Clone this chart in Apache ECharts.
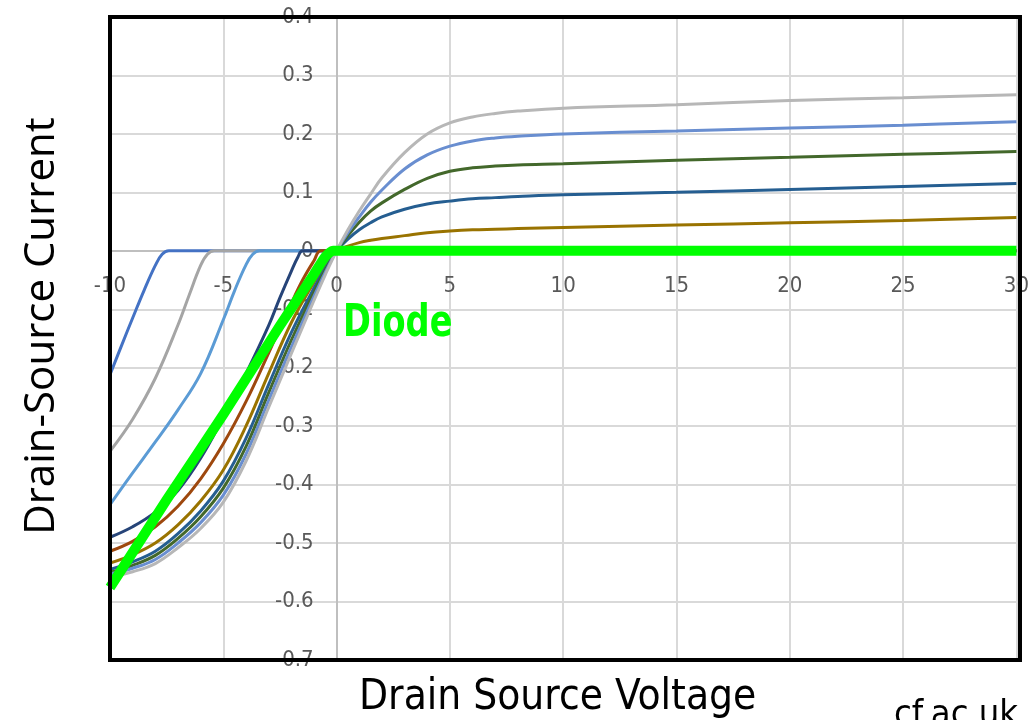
<!DOCTYPE html>
<html>
<head>
<meta charset="utf-8">
<script src="https://cdn.jsdelivr.net/npm/echarts@6.0.0/dist/echarts.min.js"></script>
<style>
  html, body { margin: 0; padding: 0; background: #ffffff; }
  #chart { width: 1032px; height: 720px; }
</style>
</head>
<body>
<div id="chart"></div>
<script>
// Axis ranges (Drain-Source Voltage in V, Drain-Source Current in A)
const xMin = -10, xMax = 30, xStep = 5;
const yMin = -0.7, yMax = 0.4, yStep = 0.1;

// Output characteristic curves, one per gate drive step: [Vds, Ids]
const curve1 = [[-10,-0.212],[-9.5,-0.163],[-9,-0.115],[-8.5,-0.068],[-8,-0.025],[-7.7,-0.006],[-7.4,0],[0,0],[30,0]];
const curve2 = [[-10,-0.343],[-9,-0.288],[-8,-0.218],[-7,-0.127],[-6.5,-0.075],[-6,-0.025],[-5.7,-0.006],[-5.4,0],[0,0],[30,0]];
const curve3 = [[-10,-0.434],[-9,-0.38],[-8,-0.327],[-7,-0.272],[-6,-0.21],[-5,-0.118],[-4.5,-0.068],[-4,-0.024],[-3.7,-0.006],[-3.4,0],[0,0],[30,0]];
const curve4 = [[-10,-0.49],[-9,-0.472],[-8,-0.447],[-7,-0.41],[-6,-0.355],[-5,-0.285],[-4,-0.21],[-3,-0.128],[-2.5,-0.08],[-2,-0.035],[-1.7,-0.01],[-1.5,0],[0,0],[30,0]];
const curve5 = [[-10,-0.514],[-9,-0.497],[-8,-0.472],[-7,-0.437],[-6,-0.39],[-5,-0.33],[-4,-0.258],[-3,-0.175],[-2,-0.09],[-1.5,-0.05],[-1,-0.017],[-0.7,0],[0,0],[30,0]];
const curve6 = [[-10,-0.534],[-9,-0.52],[-8,-0.5],[-7,-0.469],[-6,-0.428],[-5,-0.375],[-4,-0.3],[-3,-0.21],[-2,-0.123],[-1,-0.054],[-0.5,-0.024],[0,0],[0.5,0.008],[1,0.014],[1.5,0.018],[2,0.021],[3,0.026],[4,0.031],[5,0.034],[6,0.036],[7,0.037],[8,0.038],[10,0.04],[15,0.044],[20,0.048],[25,0.052],[30,0.057]];
const curve7 = [[-10,-0.545],[-9,-0.532],[-8,-0.514],[-7,-0.484],[-6,-0.445],[-5,-0.394],[-4,-0.321],[-3,-0.229],[-2,-0.14],[-1,-0.064],[-0.5,-0.03],[0,0],[0.5,0.02],[1,0.036],[1.5,0.048],[2,0.058],[3,0.071],[4,0.08],[5,0.085],[6,0.089],[7,0.091],[8,0.093],[10,0.096],[15,0.1],[20,0.105],[25,0.11],[30,0.115]];
const curve8 = [[-10,-0.55],[-9,-0.538],[-8,-0.521],[-7,-0.492],[-6,-0.455],[-5,-0.406],[-4,-0.335],[-3,-0.243],[-2,-0.153],[-1,-0.071],[-0.5,-0.033],[0,0],[0.5,0.026],[1,0.049],[1.5,0.068],[2,0.082],[3,0.105],[4,0.124],[5,0.136],[6,0.142],[7,0.145],[8,0.147],[10,0.149],[15,0.155],[20,0.16],[25,0.165],[30,0.17]];
const curve9 = [[-10,-0.553],[-9,-0.543],[-8,-0.528],[-7,-0.5],[-6,-0.465],[-5,-0.418],[-4,-0.348],[-3,-0.256],[-2,-0.165],[-1,-0.078],[-0.5,-0.037],[0,0],[0.5,0.031],[1,0.058],[1.5,0.083],[2,0.104],[3,0.14],[4,0.164],[5,0.179],[6,0.188],[7,0.193],[8,0.196],[10,0.2],[15,0.205],[20,0.21],[25,0.215],[30,0.221]];
const curve10 = [[-10,-0.558],[-9,-0.549],[-8,-0.535],[-7,-0.508],[-6,-0.475],[-5,-0.43],[-4,-0.36],[-3,-0.268],[-2,-0.176],[-1,-0.085],[-0.5,-0.041],[0,0],[0.5,0.036],[1,0.068],[1.5,0.097],[2,0.125],[3,0.168],[4,0.2],[5,0.219],[6,0.229],[7,0.235],[8,0.239],[10,0.244],[15,0.25],[20,0.257],[25,0.262],[30,0.267]];
// Body diode conduction
const diode = [[-10,-0.576],[-7.5,-0.426],[-5,-0.28],[-2.5,-0.128],[-1,-0.04],[-0.5,-0.01],[-0.15,0],[30,0]];

const curves = [curve1, curve2, curve3, curve4, curve5, curve6, curve7, curve8, curve9, curve10];
const curveColors = ['#4472C4','#A5A5A5','#5B9BD5','#264478','#9E480E','#997300','#255E91','#43682B','#698ED0','#B7B7B7'];

const numFont = "'DejaVu Sans Condensed','DejaVu Sans',sans-serif";

// Plot frame in pixels
const gridLeft = 110, gridTop = 17, gridRight = 12, gridBottom = 60;
const chartW = 1032, chartH = 720;

const chart = echarts.init(document.getElementById('chart'), null, { renderer: 'canvas' });

const series = curves.map((d, k) => ({
  type: 'line',
  data: d,
  showSymbol: false,
  smooth: 0.4,
  lineStyle: { color: curveColors[k], width: 3 },
  z: 2,
  silent: true
}));
series.push({
  type: 'line',
  data: diode,
  showSymbol: false,
  smooth: 0.2,
  lineStyle: { color: '#00FF00', width: 10, cap: 'butt', join: 'round' },
  z: 3,
  silent: true
});

const option = {
  animation: false,
  backgroundColor: '#ffffff',
  grid: { left: gridLeft, right: gridRight, top: gridTop, bottom: gridBottom },
  xAxis: {
    type: 'value',
    min: xMin, max: xMax, interval: xStep,
    axisLine: { show: true, onZero: false, lineStyle: { color: '#BFBFBF', width: 2 } },
    axisTick: { show: false },
    splitLine: { show: true, lineStyle: { color: '#D9D9D9', width: 2 } },
    axisLabel: {
      margin: 24,
      color: '#595959',
      fontFamily: numFont,
      fontSize: 22,
      showMinLabel: true, showMaxLabel: true,
      formatter: v => String(Math.round(v))
    }
  },
  yAxis: {
    type: 'value',
    min: yMin, max: yMax, interval: yStep,
    axisLine: { show: true, onZero: false, lineStyle: { color: '#BFBFBF', width: 2 } },
    axisTick: { show: false },
    splitLine: { show: true, lineStyle: { color: '#D9D9D9', width: 2 } },
    axisLabel: {
      margin: 23,
      color: '#595959',
      fontFamily: numFont,
      fontSize: 22,
      showMinLabel: true, showMaxLabel: true,
      formatter: v => String(Math.round(v * 10) / 10)
    }
  },
  series: series,
  graphic: [
    {
      type: 'rect', z: 100, silent: true,
      shape: { x: gridLeft, y: gridTop, width: chartW - gridLeft - gridRight, height: chartH - gridTop - gridBottom },
      style: { fill: 'none', stroke: '#000000', lineWidth: 4 }
    },
    {
      type: 'text', z: 101, x: 343, y: 303, scaleX: 0.85, silent: true,
      style: { text: 'Diode', fill: '#00FF00', font: "bold 44px 'DejaVu Sans Condensed','DejaVu Sans',sans-serif" }
    },
    {
      type: 'text', z: 101, x: 359, y: 677, silent: true,
      style: { text: 'Drain Source Voltage', fill: '#000000', font: "42px 'DejaVu Sans Condensed','DejaVu Sans',sans-serif" }
    },
    {
      type: 'text', z: 101, silent: true,
      x: 42, y: 326, rotation: Math.PI / 2,
      style: { text: 'Drain-Source Current', fill: '#000000', font: "42px 'Open Sans',sans-serif", align: 'center', verticalAlign: 'middle' }
    },
    {
      type: 'text', z: 101, x: 894, y: 698, silent: true,
      style: { text: 'cf.ac.uk', fill: '#000000', font: "36px 'DejaVu Sans Condensed','DejaVu Sans',sans-serif" }
    }
  ]
};
chart.setOption(option);

// Both axes cross at the origin: shift each axis onto the zero line of the other
const origin = chart.convertToPixel({ gridIndex: 0 }, [0, 0]);
chart.setOption({
  xAxis: { offset: -((chartH - gridBottom) - origin[1]) },
  yAxis: { offset: -(origin[0] - gridLeft) }
});
</script>
</body>
</html>
